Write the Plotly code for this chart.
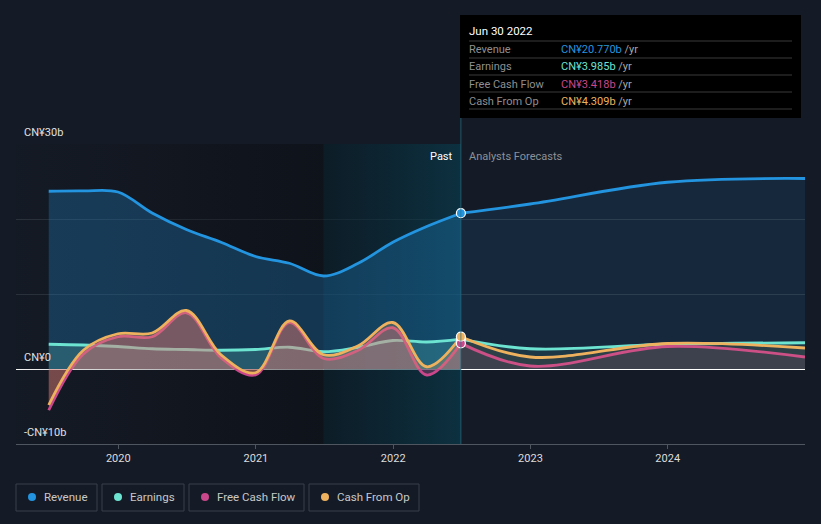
import plotly.graph_objects as go

# ---------------- data ----------------
past_dates = ['2019-06-30', '2019-09-30', '2019-12-31', '2020-03-31', '2020-06-30',
              '2020-09-30', '2020-12-31', '2021-03-31', '2021-06-30', '2021-09-30',
              '2021-12-31', '2022-03-31', '2022-06-30']
fc_dates = ['2022-06-30', '2022-12-31', '2023-12-31', '2024-12-31']

revenue_past = [23.7, 23.75, 23.6, 20.8, 18.6, 16.9, 15.0, 14.1, 12.4, 14.1, 16.9, 19.0, 20.77]
revenue_fc = [20.77, 22.0, 24.9, 25.4]

earnings_past = [3.3, 3.2, 3.0, 2.7, 2.6, 2.5, 2.6, 2.9, 2.3, 2.9, 3.8, 3.6, 3.985]
earnings_fc = [3.985, 2.7, 3.3, 3.5]

fcf_past = [-5.5, 2.0, 4.3, 4.3, 7.5, 1.5, -0.8, 6.2, 1.4, 2.5, 5.5, -0.8, 3.418]
fcf_fc = [3.418, 0.4, 3.0, 1.6]

cfo_past = [-4.8, 2.5, 4.7, 4.8, 7.8, 1.9, -0.5, 6.4, 1.9, 3.1, 6.2, 0.3, 4.309]
cfo_fc = [4.309, 1.6, 3.4, 2.8]

series_names = ['Revenue', 'Earnings', 'Free Cash Flow', 'Cash From Op']
series_colors = ['#2394df', '#6de3d2', '#c9478a', '#eeb15e']
series_rgb = ['35,148,223', '109,227,210', '201,71,138', '238,177,94']
tooltip_date = 'Jun 30 2022'
tooltip_values = ['CN¥20.770b', 'CN¥3.985b', 'CN¥3.418b', 'CN¥4.309b']
year_ticks = ['2020-01-01', '2021-01-01', '2022-01-01', '2023-01-01', '2024-01-01']
year_labels = ['2020', '2021', '2022', '2023', '2024']
y_labels = {30: 'CN¥30b', 0: 'CN¥0', -10: '-CN¥10b'}

W, H = 821, 524
L, R, T, B = 16, 16, 144, 80
BG = '#151b26'
FONT = 'Roboto'


def px_x(p):
    return (p - L) / (W - L - R)


def px_y(p):
    return (H - B - p) / (H - T - B)


fig = go.Figure()

# background regions
fig.add_trace(go.Scatter(
    x=['2019-04-04', '2021-06-30', '2021-06-30', '2019-04-04'], y=[-10, -10, 30, 30],
    fill='toself', mode='lines', line=dict(width=0), hoverinfo='skip', showlegend=False,
    fillgradient=dict(type='horizontal',
                      colorscale=[[0, 'rgba(8,10,14,0.05)'], [1, 'rgba(8,10,14,0.5)']])))
fig.add_trace(go.Scatter(
    x=['2021-06-30', '2022-06-30', '2022-06-30', '2021-06-30'], y=[-10, -10, 30, 30],
    fill='toself', mode='lines', line=dict(width=0), hoverinfo='skip', showlegend=False,
    fillgradient=dict(type='horizontal',
                      colorscale=[[0, 'rgba(6,30,40,0.55)'], [1, 'rgba(8,60,78,0.65)']])))

past_sets = [revenue_past, earnings_past, fcf_past, cfo_past]
fc_sets = [revenue_fc, earnings_fc, fcf_fc, cfo_fc]
past_alpha = [0.28, 0.2, 0.32, 0.25]
fc_alpha = [0.12, 0.08, 0.1, 0.08]

for name, col, rgb, pv, fv, pa, fa in zip(series_names, series_colors, series_rgb,
                                          past_sets, fc_sets, past_alpha, fc_alpha):
    fig.add_trace(go.Scatter(
        x=past_dates, y=pv, mode='lines', line=dict(color=col, width=2.8, shape='spline'),
        fill='tozeroy', fillcolor=f'rgba({rgb},{pa})', hoverinfo='skip', showlegend=False))
    fig.add_trace(go.Scatter(
        x=fc_dates, y=fv, mode='lines', line=dict(color=col, width=2.8, shape='spline'),
        fill='tozeroy', fillcolor=f'rgba({rgb},{fa})', hoverinfo='skip', showlegend=False))

# markers at Jun 30 2022
for col, pv in zip(series_colors, past_sets):
    fig.add_trace(go.Scatter(
        x=[past_dates[-1]], y=[pv[-1]], mode='markers',
        marker=dict(color=col, size=9, line=dict(color='white', width=1.2)),
        hoverinfo='skip', showlegend=False))

shapes = []
annotations = []

# vertical line at Jun 30 2022
shapes.append(dict(type='line', xref='x', yref='paper', x0='2022-06-30', x1='2022-06-30',
                   y0=0, y1=px_y(118), line=dict(color='rgba(40,110,130,0.7)', width=1)))

# y labels
for v, txt in y_labels.items():
    py = H - B - (v + 10) / 40 * (H - T - B) - 12
    annotations.append(dict(xref='paper', yref='paper', x=px_x(22), y=px_y(py),
                            text=txt, showarrow=False, xanchor='left', yanchor='middle',
                            font=dict(family=FONT, size=11, color='#e0e0e0')))

# Past / Analysts Forecasts
annotations.append(dict(xref='paper', yref='paper', x=px_x(455), y=px_y(156), text='Past',
                        showarrow=False, xanchor='right', yanchor='middle',
                        font=dict(family=FONT, size=11, color='#ffffff')))
annotations.append(dict(xref='paper', yref='paper', x=px_x(467), y=px_y(156),
                        text='Analysts Forecasts', showarrow=False, xanchor='left',
                        yanchor='middle', font=dict(family=FONT, size=11, color='#8c9198')))

# tooltip
shapes.append(dict(type='rect', xref='paper', yref='paper', x0=px_x(460), x1=px_x(801),
                   y0=px_y(118), y1=px_y(15), fillcolor='#000000', line=dict(width=0),
                   layer='above'))
annotations.append(dict(xref='paper', yref='paper', x=px_x(467), y=px_y(31), text=tooltip_date,
                        showarrow=False, xanchor='left', yanchor='middle',
                        font=dict(family=FONT, size=11.5, color='#ffffff')))
for i, yy in enumerate([41, 58, 75, 92, 109]):
    shapes.append(dict(type='line', xref='paper', yref='paper', x0=px_x(469), x1=px_x(792),
                       y0=px_y(yy), y1=px_y(yy), line=dict(color='#3a3a3a', width=1),
                       layer='above'))
for i, (name, col, val) in enumerate(zip(series_names, series_colors, tooltip_values)):
    yy = 49.5 + i * 17.3
    annotations.append(dict(xref='paper', yref='paper', x=px_x(467), y=px_y(yy), text=name,
                            showarrow=False, xanchor='left', yanchor='middle',
                            font=dict(family=FONT, size=11, color='#8f8f8f')))
    annotations.append(dict(xref='paper', yref='paper', x=px_x(559), y=px_y(yy),
                            text=f"<span style='color:{col}'>{val}</span> /yr",
                            showarrow=False, xanchor='left', yanchor='middle',
                            font=dict(family=FONT, size=11, color='#a8a8a8')))

# legend boxes
boxes = [(16, 97), (102, 184), (189, 304), (309, 419)]
for (x0, x1), name, col in zip(boxes, series_names, series_colors):
    shapes.append(dict(type='rect', xref='paper', yref='paper', x0=px_x(x0), x1=px_x(x1),
                       y0=px_y(511), y1=px_y(484), line=dict(color='#3b414b', width=1),
                       fillcolor='rgba(0,0,0,0)'))
    shapes.append(dict(type='circle', xref='paper', yref='paper', x0=px_x(x0 + 12),
                       x1=px_x(x0 + 20), y0=px_y(501), y1=px_y(493), fillcolor=col,
                       line=dict(width=0)))
    annotations.append(dict(xref='paper', yref='paper', x=px_x(x0 + 26), y=px_y(497),
                            text=name, showarrow=False, xanchor='left', yanchor='middle',
                            font=dict(family=FONT, size=11.5, color='#c8c8c8')))

fig.update_layout(
    width=W, height=H, margin=dict(l=L, r=R, t=T, b=B),
    paper_bgcolor=BG, plot_bgcolor=BG, showlegend=False,
    shapes=shapes, annotations=annotations, hovermode=False,
    xaxis=dict(type='date', range=['2019-04-04', '2024-12-31'], tickvals=year_ticks,
               ticktext=year_labels, showgrid=False, zeroline=False, showline=True,
               linecolor='#50565f', linewidth=1, ticks='outside', ticklen=4,
               tickcolor='#50565f', tickfont=dict(family=FONT, size=11, color='#dddddd')),
    yaxis=dict(range=[-10, 30], tickvals=[-10, 0, 10, 20, 30], showticklabels=False,
               showgrid=True, gridcolor='#2c333d', gridwidth=1, zeroline=True,
               zerolinecolor='#ffffff', zerolinewidth=1, fixedrange=True),
)

fig.write_html('out.html', config={'displayModeBar': False},
               post_script="document.body.style.margin='0';document.body.style.background='#151b26';")
